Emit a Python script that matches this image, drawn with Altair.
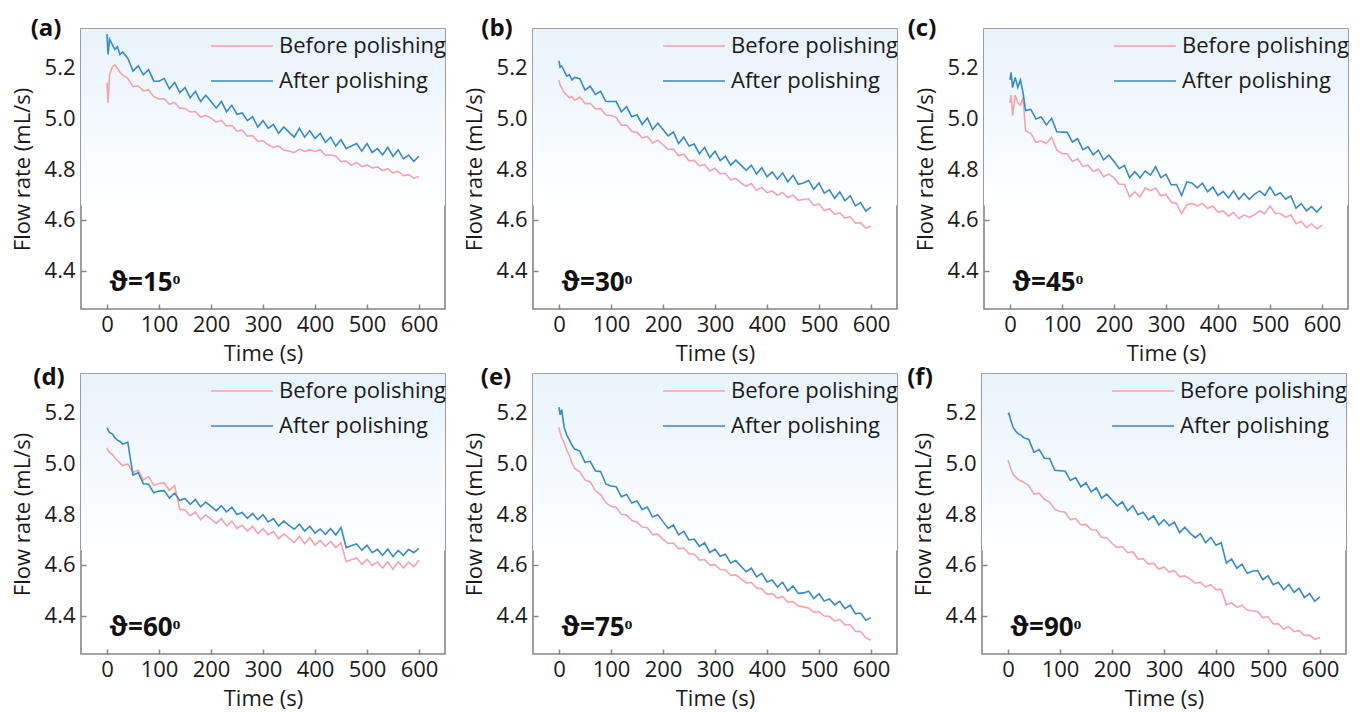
import altair as alt
import pandas as pd

# ---------------- data ----------------
T = [0, 2, 5, 10, 15, 20, 25, 30] + list(range(40, 601, 10))

a_before = [5.14, 5.06, 5.17, 5.20, 5.21, 5.195, 5.18, 5.17,
            5.156, 5.124, 5.126, 5.107, 5.111, 5.084, 5.075, 5.076, 5.054, 5.061,
            5.039, 5.038, 5.024, 5.026, 5.004, 5.011, 5.000, 4.984, 4.991, 4.969,
            4.971, 4.949, 4.953, 4.929, 4.931, 4.909, 4.911, 4.895, 4.884, 4.891,
            4.874, 4.871, 4.864, 4.878, 4.869, 4.876, 4.869, 4.876, 4.854, 4.855,
            4.851, 4.829, 4.831, 4.814, 4.826, 4.809, 4.816, 4.804, 4.808, 4.794,
            4.801, 4.784, 4.791, 4.774, 4.778, 4.764, 4.771]
a_after = [5.33, 5.25, 5.31, 5.29, 5.27, 5.28, 5.25, 5.26,
           5.235, 5.185, 5.205, 5.170, 5.190, 5.145, 5.145, 5.155, 5.115, 5.140,
           5.100, 5.120, 5.080, 5.105, 5.065, 5.090, 5.065, 5.040, 5.065, 5.025,
           5.050, 5.015, 5.020, 4.990, 5.005, 4.965, 4.990, 4.960, 4.975, 4.940,
           4.965, 4.945, 4.925, 4.960, 4.925, 4.950, 4.920, 4.940, 4.905, 4.925,
           4.890, 4.915, 4.880, 4.890, 4.900, 4.870, 4.900, 4.865, 4.880, 4.855,
           4.885, 4.850, 4.875, 4.840, 4.855, 4.830, 4.850]

b_before = [5.15, 5.13, 5.12, 5.10, 5.09, 5.08, 5.085, 5.07,
            5.083, 5.057, 5.058, 5.036, 5.038, 5.012, 5.010, 5.003, 4.972, 4.973,
            4.947, 4.944, 4.922, 4.928, 4.902, 4.913, 4.895, 4.877, 4.878, 4.852,
            4.858, 4.832, 4.834, 4.812, 4.818, 4.792, 4.803, 4.781, 4.783, 4.757,
            4.763, 4.745, 4.732, 4.743, 4.717, 4.728, 4.707, 4.714, 4.697, 4.708,
            4.687, 4.698, 4.677, 4.680, 4.683, 4.657, 4.663, 4.637, 4.644, 4.622,
            4.628, 4.607, 4.613, 4.587, 4.589, 4.567, 4.576]
b_after = [5.225, 5.20, 5.205, 5.185, 5.165, 5.17, 5.15, 5.16,
           5.155, 5.110, 5.125, 5.093, 5.105, 5.065, 5.065, 5.065, 5.025, 5.045,
           5.005, 5.013, 4.975, 5.000, 4.955, 4.980, 4.955, 4.930, 4.945, 4.900,
           4.925, 4.890, 4.898, 4.860, 4.885, 4.845, 4.870, 4.833, 4.850, 4.815,
           4.835, 4.815, 4.795, 4.815, 4.780, 4.805, 4.770, 4.788, 4.760, 4.785,
           4.750, 4.775, 4.740, 4.745, 4.755, 4.720, 4.745, 4.705, 4.718, 4.685,
           4.710, 4.675, 4.695, 4.655, 4.668, 4.635, 4.650]

c_before = [5.06, 5.09, 5.01, 5.09, 5.06, 5.05, 5.08, 4.95,
            4.940, 4.905, 4.910, 4.900, 4.925, 4.875, 4.860, 4.860, 4.830, 4.840,
            4.810, 4.815, 4.790, 4.800, 4.770, 4.780, 4.765, 4.740, 4.740, 4.690,
            4.710, 4.690, 4.725, 4.715, 4.725, 4.695, 4.700, 4.670, 4.665, 4.625,
            4.660, 4.665, 4.655, 4.665, 4.645, 4.655, 4.630, 4.635, 4.615, 4.630,
            4.605, 4.620, 4.610, 4.620, 4.635, 4.625, 4.655, 4.625, 4.625, 4.610,
            4.620, 4.585, 4.595, 4.570, 4.585, 4.565, 4.578]
c_after = [5.15, 5.18, 5.12, 5.16, 5.12, 5.15, 5.10, 5.03,
           5.034, 4.996, 5.004, 4.973, 4.999, 4.946, 4.945, 4.944, 4.906, 4.919,
           4.876, 4.887, 4.856, 4.874, 4.836, 4.854, 4.830, 4.801, 4.814, 4.766,
           4.789, 4.766, 4.792, 4.776, 4.809, 4.766, 4.779, 4.738, 4.739, 4.696,
           4.749, 4.745, 4.726, 4.744, 4.711, 4.729, 4.696, 4.712, 4.686, 4.714,
           4.681, 4.704, 4.681, 4.700, 4.714, 4.696, 4.729, 4.696, 4.707, 4.681,
           4.694, 4.646, 4.664, 4.636, 4.652, 4.631, 4.654]

d_before = [5.06, 5.05, 5.04, 5.035, 5.02, 5.01, 5.00, 4.99,
            4.997, 4.963, 4.972, 4.934, 4.947, 4.913, 4.920, 4.922, 4.893, 4.912,
            4.818, 4.816, 4.793, 4.807, 4.778, 4.797, 4.780, 4.763, 4.782, 4.753,
            4.772, 4.743, 4.756, 4.733, 4.752, 4.723, 4.742, 4.719, 4.732, 4.703,
            4.722, 4.705, 4.688, 4.712, 4.683, 4.707, 4.678, 4.696, 4.673, 4.692,
            4.668, 4.687, 4.613, 4.620, 4.627, 4.603, 4.622, 4.598, 4.611, 4.588,
            4.612, 4.583, 4.612, 4.588, 4.611, 4.593, 4.618]
d_after = [5.14, 5.13, 5.12, 5.115, 5.10, 5.09, 5.085, 5.075,
           5.082, 4.953, 4.962, 4.919, 4.917, 4.883, 4.890, 4.892, 4.863, 4.882,
           4.853, 4.861, 4.838, 4.857, 4.828, 4.847, 4.830, 4.813, 4.832, 4.808,
           4.827, 4.798, 4.806, 4.783, 4.802, 4.778, 4.797, 4.769, 4.782, 4.753,
           4.772, 4.755, 4.740, 4.760, 4.733, 4.752, 4.725, 4.741, 4.720, 4.742,
           4.718, 4.747, 4.668, 4.675, 4.682, 4.658, 4.677, 4.648, 4.661, 4.638,
           4.662, 4.633, 4.657, 4.638, 4.661, 4.648, 4.665]

e_before = [5.14, 5.12, 5.10, 5.08, 5.05, 5.03, 5.00, 4.98,
            4.966, 4.934, 4.926, 4.892, 4.876, 4.844, 4.830, 4.826, 4.799, 4.796,
            4.774, 4.768, 4.749, 4.746, 4.719, 4.721, 4.700, 4.684, 4.686, 4.664,
            4.666, 4.644, 4.643, 4.619, 4.621, 4.599, 4.601, 4.582, 4.581, 4.559,
            4.561, 4.545, 4.529, 4.531, 4.509, 4.506, 4.484, 4.488, 4.469, 4.476,
            4.454, 4.456, 4.439, 4.435, 4.431, 4.414, 4.416, 4.399, 4.398, 4.379,
            4.386, 4.364, 4.366, 4.339, 4.338, 4.314, 4.304]
e_after = [5.22, 5.19, 5.21, 5.14, 5.11, 5.09, 5.07, 5.055,
           5.047, 5.003, 5.007, 4.969, 4.967, 4.918, 4.910, 4.907, 4.868, 4.877,
           4.843, 4.851, 4.818, 4.827, 4.788, 4.797, 4.770, 4.743, 4.757, 4.718,
           4.732, 4.698, 4.701, 4.673, 4.687, 4.648, 4.662, 4.634, 4.642, 4.608,
           4.617, 4.595, 4.573, 4.587, 4.553, 4.567, 4.533, 4.541, 4.513, 4.532,
           4.498, 4.517, 4.488, 4.490, 4.497, 4.468, 4.487, 4.458, 4.466, 4.443,
           4.457, 4.428, 4.442, 4.408, 4.411, 4.383, 4.393]

f_before = [5.01, 5.00, 4.98, 4.955, 4.945, 4.935, 4.93, 4.925,
            4.912, 4.878, 4.882, 4.857, 4.847, 4.818, 4.810, 4.807, 4.778, 4.782,
            4.758, 4.759, 4.738, 4.737, 4.708, 4.707, 4.685, 4.668, 4.672, 4.648,
            4.652, 4.623, 4.624, 4.603, 4.607, 4.583, 4.592, 4.572, 4.577, 4.553,
            4.557, 4.545, 4.528, 4.532, 4.513, 4.522, 4.503, 4.504, 4.443, 4.452,
            4.433, 4.442, 4.423, 4.420, 4.417, 4.393, 4.397, 4.368, 4.369, 4.348,
            4.357, 4.338, 4.342, 4.323, 4.324, 4.308, 4.315]
f_after = [5.19, 5.195, 5.17, 5.14, 5.125, 5.115, 5.11, 5.10,
           5.093, 5.042, 5.053, 5.019, 5.018, 4.972, 4.970, 4.968, 4.932, 4.943,
           4.907, 4.922, 4.887, 4.903, 4.862, 4.878, 4.855, 4.832, 4.848, 4.812,
           4.833, 4.797, 4.807, 4.777, 4.793, 4.757, 4.778, 4.754, 4.768, 4.727,
           4.748, 4.725, 4.707, 4.723, 4.687, 4.708, 4.677, 4.687, 4.607, 4.623,
           4.587, 4.603, 4.567, 4.575, 4.578, 4.542, 4.558, 4.522, 4.532, 4.502,
           4.523, 4.492, 4.508, 4.472, 4.487, 4.457, 4.474]

panel_labels = ["(a)", "(b)", "(c)", "(d)", "(e)", "(f)"]
angles = ["15", "30", "45", "60", "75", "90"]
label_dx = [-35, -36, -62, -32, -37, -62]
label_dy = [0, 0, 0, 4, 4, 4]
befores = [a_before, b_before, c_before, d_before, e_before, f_before]
afters = [a_after, b_after, c_after, d_after, e_after, f_after]

series_names = ["Before polishing", "After polishing"]
series_colors = ["#f5a3ae", "#3a8ac2"]
x_ticks = [0, 100, 200, 300, 400, 500, 600]
y_ticks = [4.4, 4.6, 4.8, 5.0, 5.2]

W, H = 364, 280
FONT = "Open Sans"
FRAME = "#858585"


def panel(i):
    rows = []
    for t, v in zip(T, befores[i]):
        rows.append({"t": t, "v": v, "series": series_names[0]})
    for t, v in zip(T, afters[i]):
        rows.append({"t": t, "v": v, "series": series_names[1]})
    df = pd.DataFrame(rows)
    one = alt.Data(values=[{"k": 1}])

    xs = alt.Scale(domain=[-50, 650], nice=False, zero=False)
    ys = alt.Scale(domain=[4.25, 5.35], nice=False, zero=False)

    bg = alt.Chart(one).mark_rect(
        fill=alt.Gradient(
            gradient="linear",
            stops=[alt.GradientStop(color="#e8f3fb", offset=0),
                   alt.GradientStop(color="#f3f9fd", offset=0.5),
                   alt.GradientStop(color="#fbfdff", offset=0.85),
                   alt.GradientStop(color="#ffffff", offset=1)],
            x1=0, x2=0, y1=0, y2=1),
        strokeWidth=0,
    ).encode(x=alt.value(0), x2=alt.value(W), y=alt.value(0), y2=alt.value(H * 0.63))

    lines = alt.Chart(df).mark_line(strokeWidth=1.6, interpolate="linear").encode(
        x=alt.X("t:Q", scale=xs,
                axis=alt.Axis(values=x_ticks, title="Time (s)", tickSize=0, domain=False,
                              grid=False, labelPadding=5, titlePadding=8)),
        y=alt.Y("v:Q", scale=ys,
                axis=alt.Axis(values=y_ticks, format=".1f", title="Flow rate (mL/s)",
                              tickSize=0, domain=False, grid=False, labelPadding=6,
                              titlePadding=10)),
        color=alt.Color("series:N", scale=alt.Scale(domain=series_names, range=series_colors),
                        legend=None),
        order=alt.Order("t:Q"),
    )

    ticks = alt.Chart(df).mark_point(opacity=0).encode(
        x=alt.X("t:Q", scale=xs,
                axis=alt.Axis(orient="top", offset=-H, values=x_ticks, labels=False,
                              domain=False, grid=False, tickSize=5, tickColor=FRAME,
                              tickWidth=1.5, title=None)),
        y=alt.Y("v:Q", scale=ys,
                axis=alt.Axis(orient="right", offset=-W, values=y_ticks, labels=False,
                              domain=False, grid=False, tickSize=5, tickColor=FRAME,
                              tickWidth=1.5, title=None)),
    )

    leg_layers = []
    for k, (nm, col) in enumerate(zip(series_names, series_colors)):
        yy = 17 + 35 * k
        leg_layers.append(alt.Chart(one).mark_rule(color=col, strokeWidth=1.7).encode(
            x=alt.value(130), x2=alt.value(192), y=alt.value(yy)))
        leg_layers.append(alt.Chart(one).mark_text(
            text=nm, align="left", baseline="middle", fontSize=22, font=FONT,
            color="#1a1a1a").encode(x=alt.value(198), y=alt.value(yy)))

    lab = alt.Chart(one).mark_text(
        text=panel_labels[i], align="center", baseline="middle", fontSize=24,
        fontWeight="bold", font=FONT, color="#111").encode(
        x=alt.value(label_dx[i]), y=alt.value(label_dy[i]))

    ang = alt.Chart(one).mark_text(
        text="ϑ=" + angles[i] + "ᵒ", align="left", baseline="middle", fontSize=26,
        fontWeight="bold", font=FONT, color="#111").encode(
        x=alt.value(28), y=alt.value(H - 26))

    layer = alt.layer(bg, lines, ticks, *leg_layers, lab, ang).resolve_axis(
        x="independent", y="independent").properties(width=W, height=H)
    return layer


row1 = alt.hconcat(alt.hconcat(panel(0), panel(1), spacing=15), panel(2), spacing=7)
row2 = alt.hconcat(alt.hconcat(panel(3), panel(4), spacing=15), panel(5), spacing=7)

chart = alt.vconcat(row1, row2, spacing=0).properties(
    padding={"left": 10, "top": 16, "right": 5, "bottom": 2},
    background="white",
).configure_view(
    stroke=FRAME, strokeWidth=1.6,
).configure_axis(
    labelFont=FONT, titleFont=FONT, labelFontSize=22, titleFontSize=22,
    labelColor="#1a1a1a", titleColor="#1a1a1a", titleFontWeight="normal",
)

chart.save("out.html", embed_options={"renderer": "svg", "actions": False})
